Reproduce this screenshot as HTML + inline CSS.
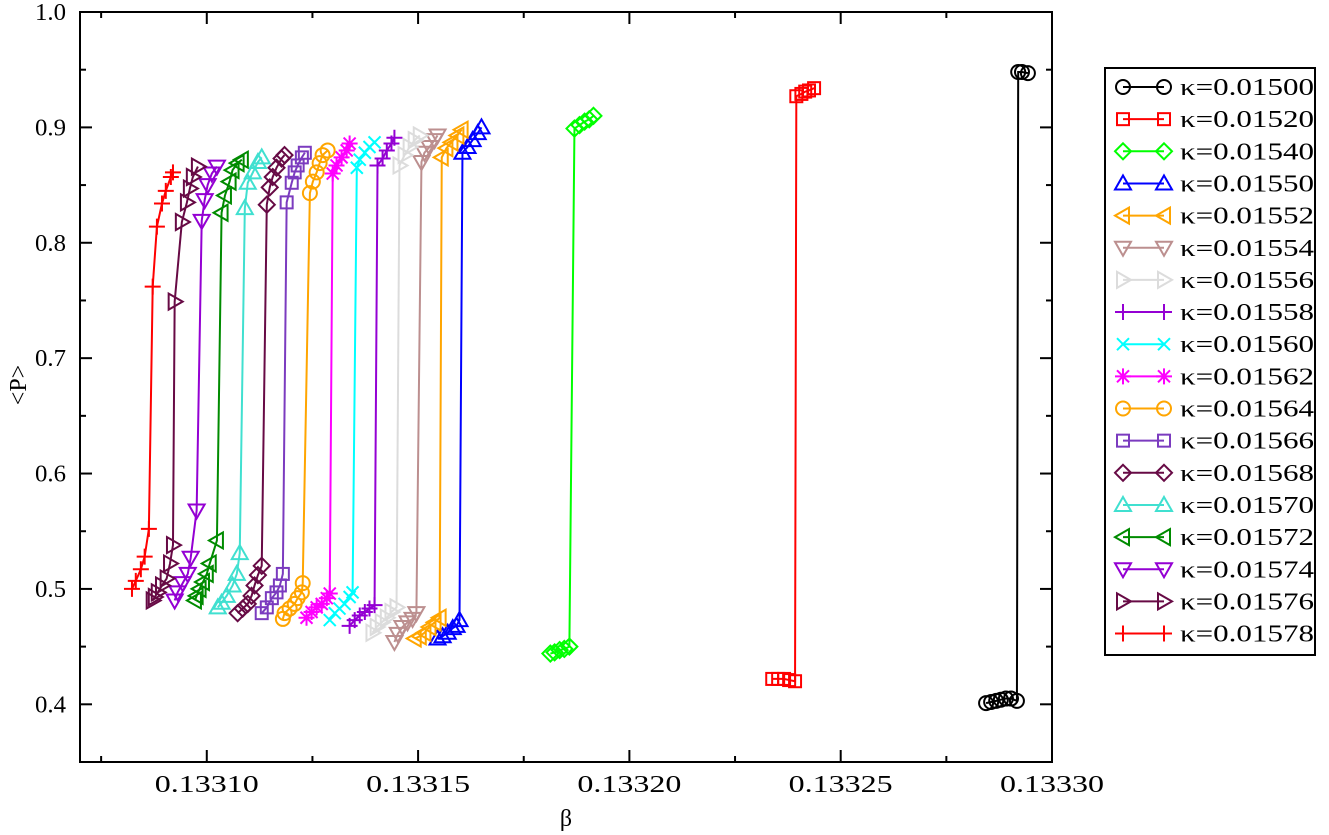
<!DOCTYPE html>
<html><head><meta charset="utf-8"><style>
html,body{margin:0;padding:0;background:#fff;}
svg{display:block;font-family:"Liberation Serif",serif;}
</style></head><body>
<svg id="chart" width="1329" height="835" viewBox="0 0 1329 835" xmlns="http://www.w3.org/2000/svg"></svg>
<script>
const kappaLabels=["κ=0.01500","κ=0.01520","κ=0.01540","κ=0.01550","κ=0.01552","κ=0.01554","κ=0.01556","κ=0.01558","κ=0.01560","κ=0.01562","κ=0.01564","κ=0.01566","κ=0.01568","κ=0.01570","κ=0.01572","κ=0.01574","κ=0.01576","κ=0.01578"];
const beta_01500=[0.1332844,0.1332856,0.1332868,0.1332879,0.1332891,0.1332903,0.1332917,0.1332920,0.1332929,0.1332943];
const P_01500=[0.401,0.402,0.403,0.404,0.405,0.405,0.403,0.948,0.948,0.947];
const beta_01520=[0.1332338,0.1332352,0.1332366,0.1332378,0.1332392,0.1332395,0.1332407,0.1332416,0.1332425,0.1332437];
const P_01520=[0.422,0.422,0.422,0.421,0.420,0.927,0.929,0.931,0.932,0.934];
const beta_01540=[0.1331813,0.1331823,0.1331835,0.1331846,0.1331858,0.1331870,0.1331882,0.1331894,0.1331905,0.1331915];
const P_01540=[0.444,0.445,0.447,0.448,0.450,0.899,0.902,0.905,0.907,0.910];
const beta_01550=[0.1331546,0.1331558,0.1331570,0.1331582,0.1331591,0.1331598,0.1331605,0.1331617,0.1331629,0.1331641,0.1331650];
const P_01550=[0.457,0.459,0.462,0.466,0.468,0.473,0.878,0.883,0.889,0.895,0.900];
const beta_01552=[0.1331492,0.1331504,0.1331515,0.1331527,0.1331539,0.1331551,0.1331556,0.1331567,0.1331579,0.1331593,0.1331603];
const P_01552=[0.457,0.459,0.462,0.467,0.471,0.475,0.874,0.882,0.887,0.893,0.898];
const beta_01554=[0.1331444,0.1331452,0.1331463,0.1331475,0.1331487,0.1331496,0.1331508,0.1331515,0.1331527,0.1331539,0.1331546];
const P_01554=[0.454,0.461,0.467,0.471,0.474,0.479,0.870,0.878,0.883,0.889,0.893];
const beta_01556=[0.1331392,0.1331402,0.1331414,0.1331426,0.1331437,0.1331449,0.1331456,0.1331468,0.1331480,0.1331492,0.1331504];
const P_01556=[0.462,0.467,0.471,0.475,0.480,0.484,0.867,0.876,0.883,0.889,0.893];
const beta_01558=[0.1331338,0.1331350,0.1331362,0.1331374,0.1331385,0.1331397,0.1331404,0.1331416,0.1331426,0.1331437,0.1331444];
const P_01558=[0.468,0.473,0.477,0.480,0.483,0.486,0.867,0.873,0.880,0.886,0.891];
const beta_01560=[0.1331291,0.1331303,0.1331314,0.1331326,0.1331338,0.1331345,0.1331355,0.1331362,0.1331374,0.1331385,0.1331397];
const P_01560=[0.473,0.479,0.483,0.487,0.493,0.497,0.865,0.872,0.878,0.883,0.887];
const beta_01562=[0.1331236,0.1331248,0.1331260,0.1331272,0.1331284,0.1331291,0.1331298,0.1331307,0.1331319,0.1331331,0.1331338];
const P_01562=[0.475,0.480,0.484,0.487,0.492,0.496,0.860,0.867,0.874,0.880,0.886];
const beta_01564=[0.1331180,0.1331184,0.1331196,0.1331208,0.1331215,0.1331225,0.1331227,0.1331244,0.1331251,0.1331260,0.1331267,0.1331274,0.1331286];
const P_01564=[0.474,0.479,0.483,0.487,0.492,0.497,0.505,0.843,0.853,0.861,0.869,0.876,0.880];
const beta_01566=[0.1331130,0.1331142,0.1331154,0.1331165,0.1331173,0.1331180,0.1331189,0.1331201,0.1331208,0.1331215,0.1331225,0.1331232];
const P_01566=[0.479,0.484,0.492,0.497,0.503,0.513,0.835,0.852,0.861,0.867,0.874,0.878];
const beta_01568=[0.1331073,0.1331085,0.1331097,0.1331106,0.1331113,0.1331121,0.1331130,0.1331142,0.1331149,0.1331156,0.1331165,0.1331177,0.1331184];
const P_01568=[0.479,0.483,0.487,0.494,0.503,0.512,0.520,0.833,0.848,0.857,0.865,0.873,0.876];
const beta_01570=[0.1331026,0.1331035,0.1331047,0.1331061,0.1331071,0.1331078,0.1331090,0.1331097,0.1331109,0.1331121,0.1331130];
const P_01570=[0.484,0.488,0.494,0.503,0.513,0.531,0.830,0.852,0.861,0.870,0.874];
const beta_01572=[0.1330972,0.1330976,0.1330983,0.1330991,0.1331000,0.1331007,0.1331024,0.1331035,0.1331043,0.1331054,0.1331061,0.1331073,0.1331083];
const P_01572=[0.490,0.494,0.500,0.506,0.513,0.522,0.542,0.826,0.841,0.853,0.863,0.869,0.872];
const beta_01574=[0.1330924,0.1330931,0.1330943,0.1330955,0.1330962,0.1330976,0.1330988,0.1330995,0.1331002,0.1331012,0.1331024];
const P_01574=[0.490,0.497,0.505,0.513,0.527,0.568,0.819,0.837,0.850,0.860,0.866];
const beta_01576=[0.1330872,0.1330877,0.1330884,0.1330894,0.1330905,0.1330913,0.1330920,0.1330924,0.1330941,0.1330953,0.1330960,0.1330967,0.1330979];
const P_01576=[0.490,0.493,0.497,0.503,0.509,0.522,0.538,0.749,0.818,0.835,0.847,0.857,0.866];
const beta_01578=[0.1330823,0.1330832,0.1330844,0.1330853,0.1330863,0.1330872,0.1330882,0.1330894,0.1330903,0.1330915,0.1330920];
const P_01578=[0.500,0.507,0.517,0.528,0.552,0.762,0.814,0.834,0.845,0.857,0.861];
const xTickLabels=["0.13310","0.13315","0.13320","0.13325","0.13330"];
const xTickValues=[0.13310,0.13315,0.13320,0.13325,0.13330];
const yTickLabels=["0.4","0.5","0.6","0.7","0.8","0.9","1.0"];
const yTickValues=[0.4,0.5,0.6,0.7,0.8,0.9,1.0];
</script>
<script>
const NS="http://www.w3.org/2000/svg";
const svg=document.getElementById("chart");
const L=80,R=1052,T=12,B=762;
const X0=0.13307,X1=0.13330,Y0=0.35,Y1=1.0;
function xs(v){return L+(v-X0)/(X1-X0)*(R-L);}
function ys(v){return B-(v-Y0)/(Y1-Y0)*(B-T);}
function mk(tag,attrs,parent){const e=document.createElementNS(NS,tag);for(const k in attrs)e.setAttribute(k,attrs[k]);(parent||svg).appendChild(e);return e;}
const series=[
 {b:beta_01500,p:P_01500,c:"#000000",m:"circle"},
 {b:beta_01520,p:P_01520,c:"#ff0000",m:"square"},
 {b:beta_01540,p:P_01540,c:"#00ff00",m:"diamond"},
 {b:beta_01550,p:P_01550,c:"#0000ff",m:"tri-up"},
 {b:beta_01552,p:P_01552,c:"#ffa500",m:"tri-left"},
 {b:beta_01554,p:P_01554,c:"#bc8f8f",m:"tri-down"},
 {b:beta_01556,p:P_01556,c:"#dcdcdc",m:"tri-right"},
 {b:beta_01558,p:P_01558,c:"#9400d3",m:"plus"},
 {b:beta_01560,p:P_01560,c:"#00ffff",m:"cross"},
 {b:beta_01562,p:P_01562,c:"#ff00ff",m:"star"},
 {b:beta_01564,p:P_01564,c:"#ffa500",m:"circle"},
 {b:beta_01566,p:P_01566,c:"#7b3bbf",m:"square"},
 {b:beta_01568,p:P_01568,c:"#670a45",m:"diamond"},
 {b:beta_01570,p:P_01570,c:"#40e0d0",m:"tri-up"},
 {b:beta_01572,p:P_01572,c:"#008b00",m:"tri-left"},
 {b:beta_01574,p:P_01574,c:"#9400d3",m:"tri-down"},
 {b:beta_01576,p:P_01576,c:"#670a45",m:"tri-right"},
 {b:beta_01578,p:P_01578,c:"#ff0000",m:"plus"}
];
function marker(g,type,x,y,c){
 const s=7,st={fill:"none",stroke:c,"stroke-width":2};
 let e;
 if(type==="circle")e=mk("circle",Object.assign({cx:x,cy:y,r:s},st),g);
 else if(type==="square")e=mk("rect",Object.assign({x:x-6,y:y-6,width:12,height:12},st),g);
 else if(type==="diamond")e=mk("polygon",Object.assign({points:`${x},${y-8} ${x+8},${y} ${x},${y+8} ${x-8},${y}`},st),g);
 else if(type==="tri-up")e=mk("polygon",Object.assign({points:`${x},${y-8} ${x+8},${y+6} ${x-8},${y+6}`},st),g);
 else if(type==="tri-down")e=mk("polygon",Object.assign({points:`${x},${y+8} ${x+8},${y-6} ${x-8},${y-6}`},st),g);
 else if(type==="tri-left")e=mk("polygon",Object.assign({points:`${x-8},${y} ${x+6},${y-8} ${x+6},${y+8}`},st),g);
 else if(type==="tri-right")e=mk("polygon",Object.assign({points:`${x+8},${y} ${x-6},${y-8} ${x-6},${y+8}`},st),g);
 else if(type==="plus")e=mk("path",Object.assign({d:`M${x-8},${y}H${x+8}M${x},${y-8}V${y+8}`},st),g);
 else if(type==="cross")e=mk("path",Object.assign({d:`M${x-6},${y-6}L${x+6},${y+6}M${x-6},${y+6}L${x+6},${y-6}`},st),g);
 else if(type==="star")e=mk("path",Object.assign({d:`M${x-8},${y}H${x+8}M${x},${y-8}V${y+8}M${x-6},${y-6}L${x+6},${y+6}M${x-6},${y+6}L${x+6},${y-6}`},st),g);
 
 
 return e;
}
const frame=mk("rect",{x:L,y:T,width:R-L,height:B-T,fill:"none",stroke:"#000","stroke-width":2});


const tg=mk("g",{stroke:"#000","stroke-width":2});


for(let v=0.13310-0.000025;v<=X1+1e-9;v+=0.000025){
 const major=Math.abs(Math.round(v/0.00005)*0.00005-v)<1e-9;const len=major?12:6;const x=xs(v);
 if(x<L+1)continue;
 mk("line",{x1:x,x2:x,y1:B,y2:B-len},tg);mk("line",{x1:x,x2:x,y1:T,y2:T+len},tg);
}
for(let v=0.35;v<=1.0001;v+=0.05){
 const major=Math.abs(Math.round(v*10)/10-v)<1e-6;const len=major?12:6;const y=ys(v);
 mk("line",{x1:L,x2:L+len,y1:y,y2:y},tg);mk("line",{x1:R,x2:R-len,y1:y,y2:y},tg);
}
xTickLabels.forEach((t,i)=>{const e=mk("text",{x:xs(xTickValues[i]),y:792,"text-anchor":"middle","font-size":24,textLength:104,lengthAdjust:"spacingAndGlyphs"});e.textContent=t;
 });
yTickLabels.forEach((t,i)=>{const e=mk("text",{x:66,y:ys(yTickValues[i])+8,"text-anchor":"end","font-size":24,textLength:31,lengthAdjust:"spacingAndGlyphs"});e.textContent=t;
 });
const xt=mk("text",{x:566,y:826,"text-anchor":"middle","font-size":24});xt.textContent="β";

const yt=mk("text",{x:0,y:0,"text-anchor":"middle","font-size":24,transform:"translate(26,385) rotate(-90)"});yt.textContent="<P>";

series.forEach((s,i)=>{
 const g=mk("g",{});
 
 
 const pts=s.b.map((b,j)=>xs(b)+","+ys(s.p[j])).join(" ");
 const pl=mk("polyline",{points:pts,fill:"none",stroke:s.c,"stroke-width":2},g);
 
 
 s.b.forEach((b,j)=>marker(g,s.m,xs(b),ys(s.p[j]),s.c));
});
const lg=mk("g",{});


const lb=mk("rect",{x:1105,y:68,width:210,height:587,fill:"#fff",stroke:"#000","stroke-width":2},lg);


series.forEach((s,i)=>{
 const y=87+i*32.15;
 const eg=mk("g",{},lg);
 
 
 mk("line",{x1:1123,x2:1164,y1:y,y2:y,stroke:s.c,"stroke-width":2},eg);
 marker(eg,s.m,1123,y,s.c);marker(eg,s.m,1164,y,s.c);
 const t=mk("text",{x:1180,y:y+8,"font-size":24,textLength:134,lengthAdjust:"spacingAndGlyphs"},eg);t.textContent=kappaLabels[i];
 
 
});
</script>
</body></html>
